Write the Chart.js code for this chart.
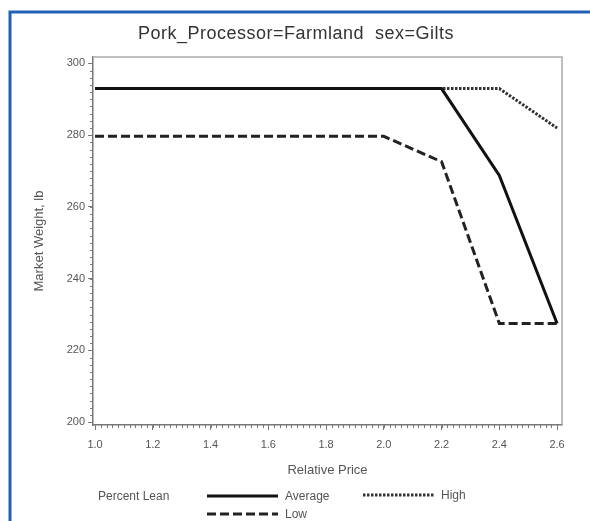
<!DOCTYPE html>
<html>
<head>
<meta charset="utf-8">
<script src="https://cdn.jsdelivr.net/npm/chart.js@4"></script>
<style>
  html, body { margin: 0; padding: 0; background: #fff; }
  #wrap { width: 590px; height: 521px; position: relative; }
</style>
</head>
<body>
<div id="wrap"><canvas id="chart" width="590" height="521"></canvas></div>
<script>
var titleText = 'Pork_Processor=Farmland  sex=Gilts';
var xTitle = 'Relative Price';
var yTitle = 'Market Weight, lb';
var legendTitle = 'Percent Lean';

var relPrice = [1.0, 1.2, 1.4, 1.6, 1.8, 2.0, 2.2, 2.4, 2.6];
var average = [293, 293, 293, 293, 293, 293, 293, 268.8, 227.5];
var high = [293, 293, 293, 293, 293, 293, 293, 293, 282];
var low = [279.7, 279.7, 279.7, 279.7, 279.7, 279.7, 272.6, 227.5, 227.5];

var xTicks = [1.0, 1.2, 1.4, 1.6, 1.8, 2.0, 2.2, 2.4, 2.6];
var yTicks = [200, 220, 240, 260, 280, 300];

function points(ys) {
	return relPrice.map(function (x, i) { return { x: x, y: ys[i] }; });
}

var textColor = '#555';
var axisColor = '#777';
var fontFamily = '"Liberation Sans", Arial, sans-serif';

// frame, minor ticks, title and legend
var decor = {
	id: 'decor',
	beforeDraw: function (chart) {
		var ctx = chart.ctx;
		ctx.save();
		ctx.fillStyle = '#fff';
		ctx.fillRect(0, 0, chart.width, chart.height);
		ctx.strokeStyle = '#1f62b8';
		ctx.lineWidth = 3;
		ctx.beginPath();
		ctx.moveTo(10, chart.height);
		ctx.lineTo(10, 12);
		ctx.lineTo(chart.width, 12);
		ctx.stroke();
		ctx.restore();
	},
	afterDraw: function (chart) {
		var ctx = chart.ctx;
		var a = chart.chartArea;
		var xs = chart.scales.x, ys = chart.scales.y;
		ctx.save();

		// top and right edge of the plot box
		ctx.strokeStyle = '#aaa';
		ctx.lineWidth = 1.5;
		ctx.beginPath();
		ctx.moveTo(a.left, a.top);
		ctx.lineTo(a.right, a.top);
		ctx.lineTo(a.right, a.bottom);
		ctx.stroke();

		// minor ticks
		ctx.strokeStyle = axisColor;
		ctx.lineWidth = 1;
		ctx.beginPath();
		for (var i = 0; i <= 80; i++) {
			var px = Math.round(xs.getPixelForValue(1 + i * 0.02)) + 0.5;
			ctx.moveTo(px, a.bottom);
			ctx.lineTo(px, a.bottom + 3);
		}
		for (var v = 200; v <= 300; v += 2) {
			var py = Math.round(ys.getPixelForValue(v)) + 0.5;
			ctx.moveTo(a.left, py);
			ctx.lineTo(a.left - 3, py);
		}
		ctx.stroke();

		// title
		ctx.fillStyle = '#333';
		ctx.font = '18px ' + fontFamily;
		ctx.letterSpacing = '0.5px';
		ctx.textAlign = 'center';
		ctx.textBaseline = 'middle';
		ctx.fillText(titleText, 296, 34);
		ctx.letterSpacing = '0px';

		// legend
		ctx.font = '12px ' + fontFamily;
		ctx.textAlign = 'left';
		ctx.fillStyle = textColor;
		ctx.fillText(legendTitle, 98, 497);
		var spots = [[207, 496], [363, 495], [207, 514]];
		chart.data.datasets.forEach(function (ds, k) {
			var s = spots[k];
			ctx.strokeStyle = ds.borderColor;
			ctx.lineWidth = ds.borderWidth;
			ctx.setLineDash(ds.borderDash || []);
			ctx.beginPath();
			ctx.moveTo(s[0], s[1]);
			ctx.lineTo(s[0] + 71, s[1]);
			ctx.stroke();
			ctx.setLineDash([]);
			ctx.fillStyle = textColor;
			ctx.fillText(ds.label, s[0] + 78, s[1] + 1);
		});
		ctx.restore();
	}
};

var chart = new Chart(document.getElementById('chart'), {
	type: 'line',
	data: {
		datasets: [{
			label: 'Average',
			data: points(average),
			borderColor: '#111',
			borderWidth: 3,
			pointRadius: 0,
			tension: 0,
			order: 0
		}, {
			label: 'High',
			data: points(high),
			borderColor: '#333',
			borderWidth: 3,
			borderDash: [2.5, 1.5],
			pointRadius: 0,
			tension: 0,
			order: 2
		}, {
			label: 'Low',
			data: points(low),
			borderColor: '#222',
			borderWidth: 3,
			borderDash: [9, 4],
			pointRadius: 0,
			tension: 0,
			order: 1
		}]
	},
	options: {
		responsive: false,
		animation: false,
		layout: { padding: { left: 10, top: 57, right: 28, bottom: 40 } },
		plugins: {
			legend: { display: false },
			title: { display: false },
			tooltip: { enabled: false }
		},
		scales: {
			x: {
				type: 'linear',
				min: 0.993,
				max: 2.617,
				afterBuildTicks: function (scale) {
					scale.ticks = xTicks.map(function (v) { return { value: v }; });
				},
				afterFit: function (scale) { scale.height = 56; },
				ticks: {
					color: textColor,
					font: { size: 11, family: fontFamily },
					padding: 8,
					maxRotation: 0,
					autoSkip: false,
					callback: function (v) { return Number(v).toFixed(1); }
				},
				grid: { drawOnChartArea: false, tickLength: 5, tickColor: axisColor },
				border: { color: axisColor, width: 1.5 },
				title: {
					display: true,
					text: xTitle,
					color: textColor,
					font: { size: 13, family: fontFamily },
					padding: { top: 0, bottom: 3 }
				}
			},
			y: {
				min: 199.2,
				max: 301.8,
				afterBuildTicks: function (scale) {
					scale.ticks = yTicks.map(function (v) { return { value: v }; });
				},
				afterFit: function (scale) { scale.width = 83; },
				ticks: {
					color: textColor,
					font: { size: 11, family: fontFamily },
					padding: 3
				},
				grid: { drawOnChartArea: false, tickLength: 5, tickColor: axisColor },
				border: { color: axisColor, width: 1.5 },
				title: {
					display: true,
					text: yTitle,
					color: textColor,
					font: { size: 13, family: fontFamily },
					padding: { top: 22, bottom: 0 }
				}
			}
		}
	},
	plugins: [decor]
});
</script>
</body>
</html>
